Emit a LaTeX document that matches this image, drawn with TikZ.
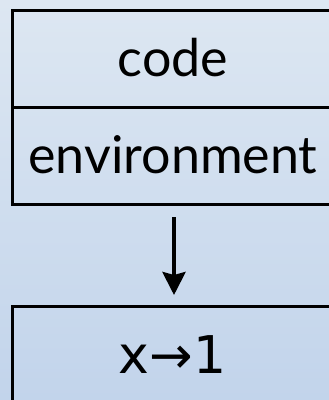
\documentclass[tikz,border=0pt]{standalone}
\usepackage{fontspec}
\setmainfont{Lato}
\newfontfamily\dejavu{DejaVu Sans}
\usetikzlibrary{arrows.meta}
\definecolor{bgtop}{RGB}{221,231,242}
\definecolor{bgbot}{RGB}{194,212,235}
\begin{document}
\begin{tikzpicture}[x=1pt,y=-1pt,
  box/.style={draw=black, line width=3pt, minimum width=345pt, inner sep=0pt, outer sep=0pt, rectangle},
  lbl/.style={font=\fontsize{52}{60}\selectfont, anchor=base, inner sep=0pt},
  flow/.style={line width=4pt, -{Stealth[length=23pt,width=23pt,inset=3pt]}}]
\useasboundingbox (0,0) rectangle (329,400);
\begin{scope}
\clip (0,0) rectangle (329,400);
\shade[top color=bgtop, bottom color=bgbot] (0,0) rectangle (329,400);
\node[box, minimum height=97.5pt] (code) at (185,58.75) {};
\node[box, minimum height=96.5pt] (env) at (185,155.75) {};
\node[box, minimum height=104pt] (res) at (185,358) {};
\node[lbl] (codet) at (173,76) {code};
\node[lbl] (envt) at (173,173) {environment};
\node[lbl, font=\dejavu\fontsize{52}{60}\selectfont] (rest) at (172.5,373) {x→1};
\coordinate (a) at (174,204);
\coordinate (b) at (174,306);
\draw[flow, shorten <=13pt, shorten >=11pt] (a) -- (b);
\end{scope}
\end{tikzpicture}
\end{document}
